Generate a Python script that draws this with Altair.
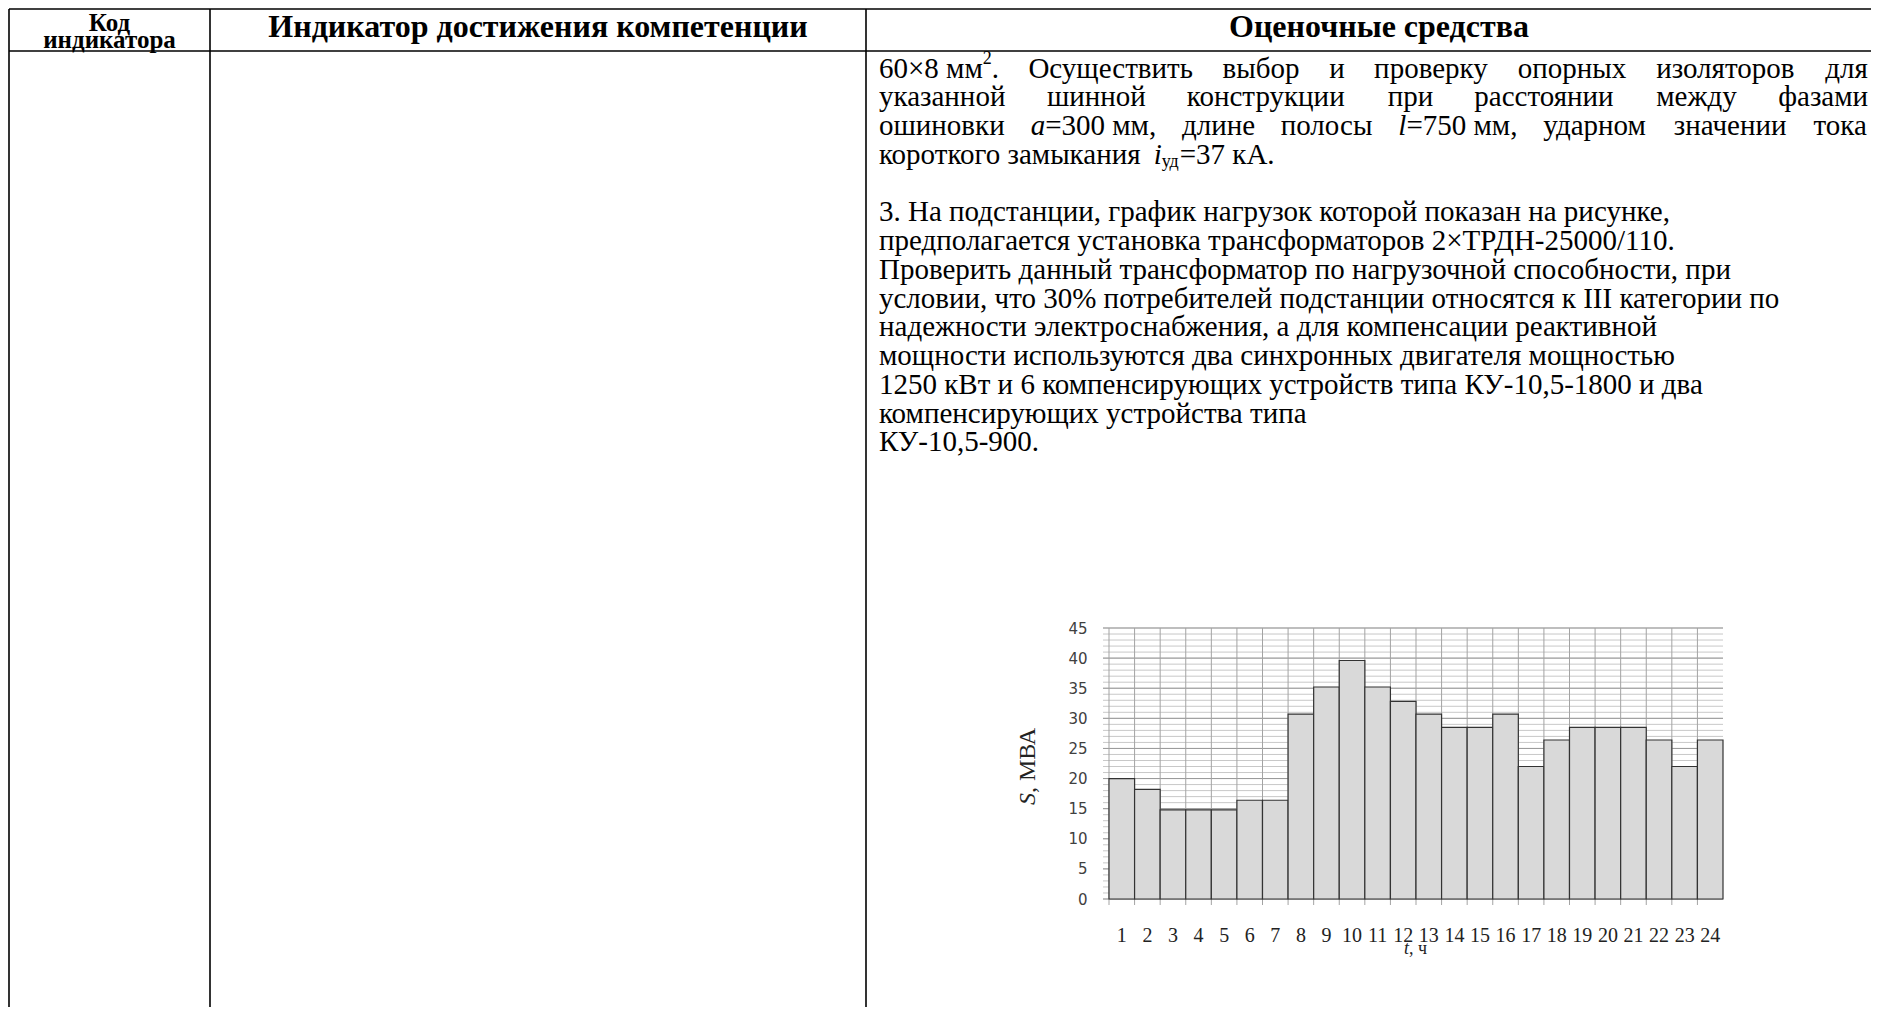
import altair as alt
import pandas as pd

# ---------------- data ----------------
hours = ["1", "2", "3", "4", "5", "6", "7", "8", "9", "10", "11", "12",
         "13", "14", "15", "16", "17", "18", "19", "20", "21", "22", "23", "24"]
load_mva = [20.0, 18.2, 14.8, 14.8, 14.8, 16.4, 16.4, 30.7, 35.2, 39.6, 35.2, 32.8,
            30.7, 28.5, 28.5, 30.7, 22.0, 26.4, 28.5, 28.5, 28.5, 26.4, 22.0, 26.4]
y_tick_values = [0, 5, 10, 15, 20, 25, 30, 35, 40, 45]

header_col1 = ["Код", "индикатора"]
header_col2 = "Индикатор достижения компетенции"
header_col3 = "Оценочные средства"

# justified lines of the first paragraph (word = list of runs)
para1_justified = [
    [[("60×8 мм", "reg"), ("2", "sup"), (".", "reg")], [("Осуществить", "reg")], [("выбор", "reg")],
     [("и", "reg")], [("проверку", "reg")], [("опорных", "reg")], [("изоляторов", "reg")], [("для", "reg")]],
    [[("указанной", "reg")], [("шинной", "reg")], [("конструкции", "reg")], [("при", "reg")],
     [("расстоянии", "reg")], [("между", "reg")], [("фазами", "reg")]],
    [[("ошиновки", "reg")], [("a", "ital"), ("=300 мм,", "reg")], [("длине", "reg")], [("полосы", "reg")],
     [("l", "ital"), ("=750 мм,", "reg")], [("ударном", "reg")], [("значении", "reg")], [("тока", "reg")]],
]
para1_last = [("короткого замыкания", "reg"), ("i", "ital"), ("уд", "sub"), ("=37 кА.", "reg")]

para2_lines = [
    "3. На подстанции, график нагрузок которой показан на рисунке,",
    "предполагается установка трансформаторов 2×ТРДН-25000/110.",
    "Проверить данный трансформатор по нагрузочной способности, при",
    "условии, что 30% потребителей подстанции относятся к III категории по",
    "надежности электроснабжения, а для компенсации реактивной",
    "мощности используются два синхронных двигателя мощностью",
    "1250 кВт и 6 компенсирующих устройств типа КУ-10,5-1800 и два",
    "компенсирующих устройства типа",
    "КУ-10,5-900.",
]
y_title_runs = [("S", "ital"), (", МВА", "reg")]
x_title_runs = [("t", "ital"), (", ч", "reg")]

# ---------------- layout (page pixels) ----------------
VX0, VY0 = 1109, 628          # plot area origin on the page
PW, PH = 614, 271             # plot area size
FS, SMALL = 29, 18
HFS, HFS1 = 32, 25
SERIF = "Liberation Serif"

def vx(p):
    return p - VX0

def vy(p):
    return p - VY0

# approximate Times advance widths (em)
W = {" ": 0.25, ".": 0.25, ",": 0.25, "=": 0.564, "×": 0.564, "-": 0.333, "/": 0.278, "%": 0.833}
for d in "0123456789":
    W[d] = 0.5
W.update({"а": .444, "б": .504, "в": .469, "г": .413, "д": .499, "е": .444, "ж": .72, "з": .391,
          "и": .535, "й": .535, "к": .491, "л": .499, "м": .631, "н": .535, "о": .5, "п": .535,
          "р": .5, "с": .444, "т": .445, "у": .5, "ф": .65, "х": .5, "ц": .535, "ч": .505,
          "ш": .771, "щ": .771, "ъ": .513, "ы": .685, "ь": .462, "э": .434, "ю": .739, "я": .476,
          "О": .722, "Н": .722, "П": .722, "Т": .611, "Р": .556, "Д": .695, "К": .706, "У": .706,
          "В": .667, "А": .722, "М": .889, "I": .333, "a": .444, "l": .278, "i": .278})
WI = {"a": .5, "l": .278, "i": .278, "S": .5, "t": .278}

def run_w(text, kind, fs=FS):
    size = SMALL if kind in ("sup", "sub") else fs
    table = WI if kind == "ital" else W
    return sum(table.get(c, W.get(c, 0.5)) for c in text) * size

rows = []

def add(xp, yp, text, kind):
    dy = {"sup": -10, "sub": 7}.get(kind, 0)
    rows.append({"x": vx(xp), "y": vy(yp + dy), "text": text, "kind": kind})

LEFT, RIGHT = 879, 1868
LINE0, STEP = 68.5, 28.75

for i, words in enumerate(para1_justified):
    y = LINE0 + STEP * i
    widths = [sum(run_w(t, k) for t, k in w) for w in words]
    gap = (RIGHT - LEFT - sum(widths)) / (len(words) - 1)
    x = LEFT
    for w, wd in zip(words, widths):
        cx = x
        for t, k in w:
            add(cx, y, t, k)
            cx += run_w(t, k)
        x += wd + gap

cx = LEFT
for n, (t, k) in enumerate(para1_last):
    add(cx, LINE0 + STEP * 3, t, k)
    cx += run_w(t, k) + (W[" "] * FS if n == 0 else 0)

for j, line in enumerate(para2_lines):
    add(LEFT, LINE0 + STEP * (5 + j), line, "reg")

# headers
head1_df = pd.DataFrame([
    {"x": vx(109.5), "y": vy(23), "text": header_col1[0]},
    {"x": vx(109.5), "y": vy(40), "text": header_col1[1]},
])
head_df = pd.DataFrame([
    {"x": vx(538), "y": vy(27), "text": header_col2},
    {"x": vx(1379), "y": vy(27), "text": header_col3},
])

text_df = pd.DataFrame(rows)

# table borders (the right border of the table lies outside the picture)
TOP, HEAD_BOT, BOTTOM = 9, 51, 1030
XL, XC1, XC2, XEND = 9, 210, 866, 1880
border_df = pd.DataFrame([
    {"x": vx(XL), "x2": vx(XEND), "y": vy(TOP), "y2": vy(TOP)},
    {"x": vx(XL), "x2": vx(XEND), "y": vy(HEAD_BOT), "y2": vy(HEAD_BOT)},
    {"x": vx(XL), "x2": vx(XL), "y": vy(TOP), "y2": vy(BOTTOM)},
    {"x": vx(XC1), "x2": vx(XC1), "y": vy(TOP), "y2": vy(BOTTOM)},
    {"x": vx(XC2), "x2": vx(XC2), "y": vy(TOP), "y2": vy(BOTTOM)},
])

def PX(f):
    return alt.X(f, type="quantitative", scale=None, axis=None)

def PY(f):
    return alt.Y(f, type="quantitative", scale=None, axis=None)

borders = alt.Chart(border_df).mark_rule(color="#000000", strokeWidth=1.6).encode(
    x=PX("x"), x2="x2", y=PY("y"), y2="y2")

def text_layer(kind, **props):
    base = dict(font=SERIF, fontSize=FS, align="left", baseline="middle", color="#000000")
    base.update(props)
    return alt.Chart(text_df).transform_filter(alt.datum.kind == kind).mark_text(**base).encode(
        x=PX("x"), y=PY("y"), text="text:N")

t_reg = text_layer("reg")
t_ital = text_layer("ital", fontStyle="italic")
t_sup = text_layer("sup", fontSize=SMALL)
t_sub = text_layer("sub", fontSize=SMALL)
t_head = alt.Chart(head_df).mark_text(font=SERIF, fontSize=HFS, fontWeight="bold", align="center",
                                      baseline="middle", color="#000000").encode(
    x=PX("x"), y=PY("y"), text="text:N")
t_head1 = alt.Chart(head1_df).mark_text(font=SERIF, fontSize=HFS1, fontWeight="bold", align="center",
                                        baseline="middle", color="#000000").encode(
    x=PX("x"), y=PY("y"), text="text:N")

# ---------------- bar chart ----------------
bar_df = pd.DataFrame({"hour": hours, "S": load_mva})
band = alt.Scale(paddingInner=0, paddingOuter=0)
yscale = alt.Scale(domain=[0, 45], nice=False, zero=True)

x_axis = alt.Axis(title=None, labelAngle=0, labelFont=SERIF, labelFontSize=20,
                  labelColor="#222222", ticks=False, tickSize=0, domain=False,
                  grid=False, labelPadding=26, labelOverlap=False, labelBound=False)
y_axis = alt.Axis(title=None, values=y_tick_values, labelFont="DejaVu Sans",
                  labelFontSize=15, labelColor="#404040", ticks=False, tickSize=0,
                  domain=False, grid=False, labelPadding=22)

minor_df = pd.DataFrame({"v": list(range(0, 46))})
major_df = pd.DataFrame({"v": y_tick_values})

minor = alt.Chart(minor_df).mark_rule(color="#c8c8c8", strokeWidth=1).encode(
    y=alt.Y("v:Q", scale=yscale, axis=y_axis), x=alt.value(-6), x2=alt.value(PW))
major = alt.Chart(major_df).mark_rule(color="#999999", strokeWidth=1).encode(
    y=alt.Y("v:Q", scale=yscale, axis=y_axis), x=alt.value(-6), x2=alt.value(PW))
vgrid = alt.Chart(bar_df).mark_rule(color="#a3a3a3", strokeWidth=1).encode(
    x=alt.X("hour:N", sort=hours, scale=band, bandPosition=0, axis=x_axis),
    y=alt.value(0), y2=alt.value(PH + 6))

bars = alt.Chart(bar_df).mark_bar(fill="#d9d9d9", stroke="#333333", strokeWidth=1.2).encode(
    x=alt.X("hour:N", sort=hours, scale=band, axis=x_axis),
    y=alt.Y("S:Q", scale=yscale, axis=y_axis),
)

# axis titles with italic symbols
YT_FS, XT_FS = 24, 18
yt_rows, cy = [], vy(765) + 40
for t, k in y_title_runs:
    yt_rows.append({"x": vx(1028), "y": cy, "text": t, "kind": k})
    cy -= run_w(t, k, YT_FS)
xt_rows, cx = [], vx(1416) - 12
for t, k in x_title_runs:
    xt_rows.append({"x": cx, "y": vy(940), "text": t, "kind": k})
    cx += run_w(t, k, XT_FS)
yt_df = pd.DataFrame(yt_rows)
xt_df = pd.DataFrame(xt_rows)

def title_layer(df, kind, **props):
    return alt.Chart(df).transform_filter(alt.datum.kind == kind).mark_text(
        font=SERIF, color="#222222", align="left", **props).encode(
        x=PX("x"), y=PY("y"), text="text:N")

yt1 = title_layer(yt_df, "ital", fontSize=YT_FS, fontStyle="italic", angle=270, baseline="middle")
yt2 = title_layer(yt_df, "reg", fontSize=YT_FS, angle=270, baseline="middle")
xt1 = title_layer(xt_df, "ital", fontSize=XT_FS, fontStyle="italic", baseline="top")
xt2 = title_layer(xt_df, "reg", fontSize=XT_FS, baseline="top")

chart = alt.layer(
    minor, major, vgrid, bars, borders, t_reg, t_ital, t_sup, t_sub, t_head, t_head1,
    yt1, yt2, xt1, xt2
).properties(
    width=PW, height=PH,
    padding={"left": VX0 - 8, "top": VY0 - 8, "right": 148, "bottom": 108},
    autosize=alt.AutoSizeParams(type="none"),
    background="#ffffff",
).configure_view(stroke=None)

chart.save("out.html", embed_options={"renderer": "svg", "actions": False})
